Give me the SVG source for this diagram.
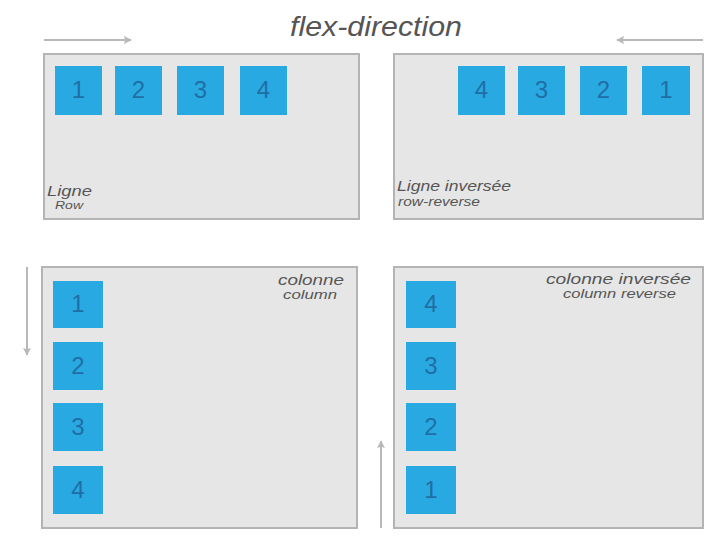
<svg xmlns="http://www.w3.org/2000/svg" width="727" height="551" viewBox="0 0 727 551">
<defs>
<style>
.panel{fill:#e6e6e6;stroke:#b4b4b4;stroke-width:2}
.box{fill:#29a9e1}
.num{font-family:"Liberation Sans",Arial,sans-serif;font-size:24px;fill:#1f6ea6;text-anchor:middle}
.lbl{font-family:"Liberation Sans",Arial,sans-serif;font-style:italic;fill:#555}
.arr{stroke:#b8b8b8;stroke-width:2;fill:none}
</style>
<marker id="ah" viewBox="0 0 10 10" refX="9" refY="5" markerWidth="8" markerHeight="8" markerUnits="userSpaceOnUse" orient="auto">
<path d="M0,0 L10,5 L0,10 L2,5 Z" fill="#b8b8b8"/>
</marker>
</defs>
<rect width="727" height="551" fill="#fff"/>
<text class="lbl" x="290" y="36" font-size="28" textLength="172" lengthAdjust="spacingAndGlyphs">flex-direction</text>
<g id="connectors">
<line class="arr" x1="44" y1="40" x2="131" y2="40" marker-end="url(#ah)"/>
<line class="arr" x1="703" y1="40" x2="617" y2="40" marker-end="url(#ah)"/>
<line class="arr" x1="27" y1="267" x2="27" y2="355" marker-end="url(#ah)"/>
<line class="arr" x1="381" y1="528" x2="381" y2="441" marker-end="url(#ah)"/>
</g>
<g id="row">
<rect class="panel" x="44" y="54" width="315" height="165"/>
<rect class="box" x="55" y="66" width="47" height="49"/><text class="num" x="78.5" y="98">1</text>
<rect class="box" x="115" y="66" width="47" height="49"/><text class="num" x="138.5" y="98">2</text>
<rect class="box" x="177" y="66" width="47" height="49"/><text class="num" x="200.5" y="98">3</text>
<rect class="box" x="240" y="66" width="47" height="49"/><text class="num" x="263.5" y="98">4</text>
<text class="lbl" x="47" y="196" font-size="15" textLength="45" lengthAdjust="spacingAndGlyphs">Ligne</text>
<text class="lbl" x="55" y="209" font-size="11" textLength="28" lengthAdjust="spacingAndGlyphs">Row</text>
</g>
<g id="row-reverse">
<rect class="panel" x="394" y="54" width="309" height="165"/>
<rect class="box" x="458" y="66" width="47" height="49"/><text class="num" x="481.5" y="98">4</text>
<rect class="box" x="518" y="66" width="47" height="49"/><text class="num" x="541.5" y="98">3</text>
<rect class="box" x="580" y="66" width="47" height="49"/><text class="num" x="603.5" y="98">2</text>
<rect class="box" x="642" y="66" width="48" height="49"/><text class="num" x="666" y="98">1</text>
<text class="lbl" x="397" y="191" font-size="14.5" textLength="114" lengthAdjust="spacingAndGlyphs">Ligne inversée</text>
<text class="lbl" x="398" y="206" font-size="13" textLength="82" lengthAdjust="spacingAndGlyphs">row-reverse</text>
</g>
<g id="column">
<rect class="panel" x="42" y="267" width="315" height="261"/>
<rect class="box" x="53" y="281" width="50" height="47"/><text class="num" x="78" y="312">1</text>
<rect class="box" x="53" y="342" width="50" height="48"/><text class="num" x="78" y="374">2</text>
<rect class="box" x="53" y="403" width="50" height="48"/><text class="num" x="78" y="435">3</text>
<rect class="box" x="53" y="466" width="50" height="48"/><text class="num" x="78" y="498">4</text>
<text class="lbl" x="278" y="285" font-size="15" textLength="66" lengthAdjust="spacingAndGlyphs">colonne</text>
<text class="lbl" x="283" y="299" font-size="12.5" textLength="54" lengthAdjust="spacingAndGlyphs">column</text>
</g>
<g id="column-reverse">
<rect class="panel" x="394" y="267" width="309" height="261"/>
<rect class="box" x="406" y="281" width="50" height="47"/><text class="num" x="431" y="312">4</text>
<rect class="box" x="406" y="342" width="50" height="48"/><text class="num" x="431" y="374">3</text>
<rect class="box" x="406" y="403" width="50" height="48"/><text class="num" x="431" y="435">2</text>
<rect class="box" x="406" y="466" width="50" height="48"/><text class="num" x="431" y="498">1</text>
<text class="lbl" x="546" y="284" font-size="14.5" textLength="145" lengthAdjust="spacingAndGlyphs">colonne inversée</text>
<text class="lbl" x="563" y="298" font-size="13" textLength="113" lengthAdjust="spacingAndGlyphs">column reverse</text>
</g>
</svg>
